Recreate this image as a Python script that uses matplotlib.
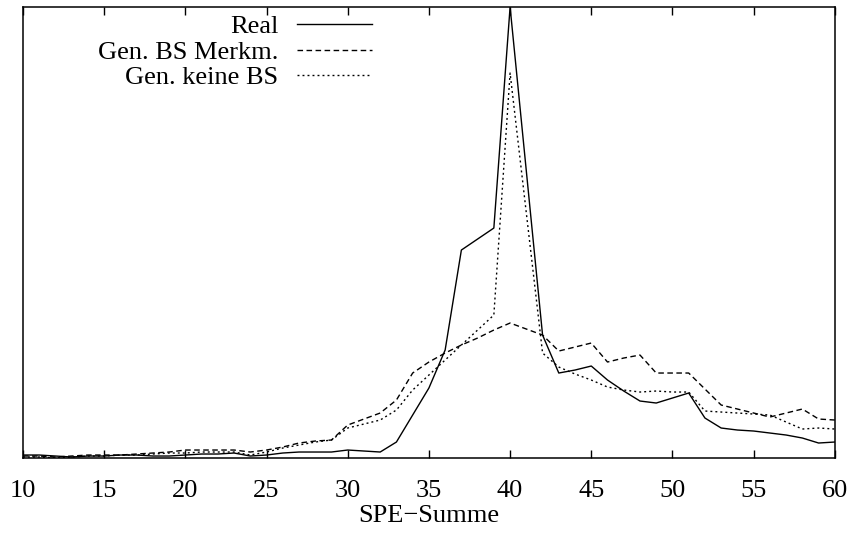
import numpy as np
import matplotlib
matplotlib.use("Agg")
import matplotlib.pyplot as plt

plt.rcParams['font.family'] = ['Liberation Serif', 'DejaVu Serif']

# SPE-Summe 10..60, Häufigkeiten (willkürliche Einheiten)
spe = np.arange(10, 61)

real = [3, 3, 2, 1, 2, 2, 3, 3, 2, 2,
        3, 4, 4, 5, 2, 3, 5, 6, 6, 6,
        8, 7, 6, 16, 43, 70, 108, 208, 219, 230,
        451, 287, 123, 85, 88, 92, 78, 67, 57, 55,
        60, 65, 40, 30, 28, 27, 25, 23, 20, 15, 16]

gen_bs = [2, 2, 1, 2, 3, 3, 3, 4, 5, 6,
          8, 8, 8, 8, 6, 8, 11, 15, 17, 18,
          33, 39, 45, 58, 85, 96, 105, 113, 120, 128,
          135, 129, 123, 107, 111, 115, 96, 100, 103, 85,
          85, 85, 69, 53, 49, 45, 41, 45, 49, 39, 38]

gen_keine = [1, 1, 0, 1, 2, 2, 3, 3, 4, 5,
             5, 6, 6, 6, 3, 6, 10, 13, 16, 18,
             30, 34, 38, 48, 68, 83, 98, 113, 128, 143,
             385, 245, 105, 91, 84, 78, 71, 68, 66, 67,
             66, 66, 47, 46, 45, 44, 43, 36, 29, 30, 29]

fig = plt.figure(figsize=(8.51, 5.43), dpi=100)
ax = fig.add_axes([0.027, 0.1565, 0.954, 0.8305])

ax.plot(spe, real, color='black', lw=1.0, label='Real')
ax.plot(spe, gen_bs, color='black', lw=1.0, dashes=(4, 2.5), label='Gen. BS Merkm.')
ax.plot(spe, gen_keine, color='black', lw=1.0, dashes=(1.4, 2.2), label='Gen. keine BS')

ax.set_xlim(10, 60)
ax.set_ylim(0, 451)
ax.set_xticks(range(10, 61, 5))
ax.set_yticks([])
ax.tick_params(axis='x', direction='in', length=6, width=1, top=True,
               labelsize=19, pad=16)
for s in ax.spines.values():
    s.set_linewidth(1.1)

ax.set_xlabel('SPE\u2212Summe', fontsize=19, labelpad=2)

ax.legend(loc='upper right', bbox_to_anchor=(0.43, 0.983), frameon=False,
          markerfirst=False, fontsize=19, handlelength=2.85, handletextpad=0.7,
          labelspacing=0.08, borderpad=0, borderaxespad=0)

fig.savefig('out.png', dpi=100)
